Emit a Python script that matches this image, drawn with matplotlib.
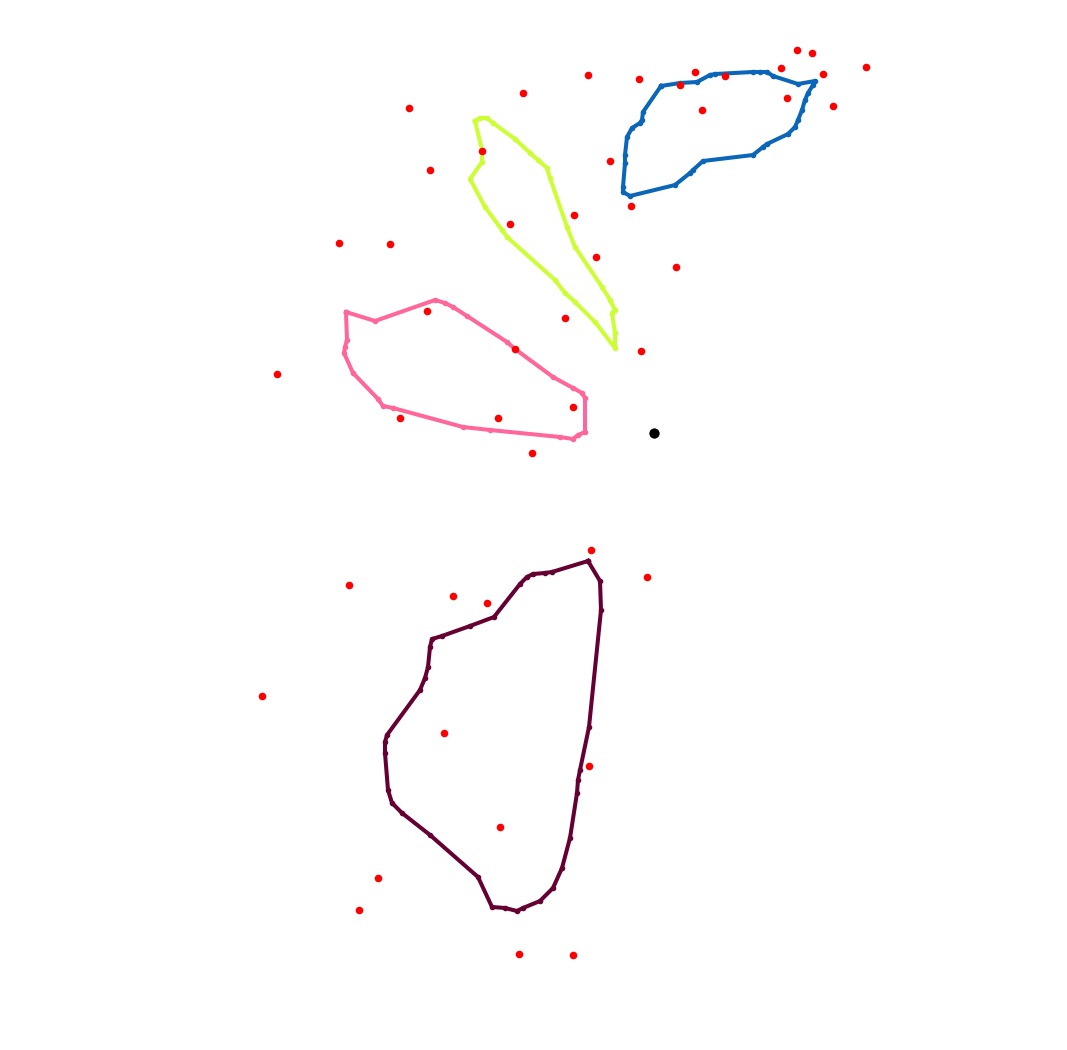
import matplotlib
matplotlib.use('Agg')
import matplotlib.pyplot as plt

# polygon outlines (vertex x, y in picture units)
blue_x = [661, 680, 697, 710, 715, 753, 760, 767, 773, 798, 815, 813, 808, 805, 802, 798, 795, 788,
          767, 763, 753, 703, 693, 690, 675, 630, 623, 623, 625, 625, 627, 632, 640, 642, 643]
blue_y = [86, 83, 82, 75, 74, 72, 72, 72, 76, 84, 81, 85, 93, 100, 110, 120, 127, 134,
          144, 147, 155, 161, 170, 173, 185, 196, 192, 187, 163, 155, 137, 128, 123, 120, 112]

lime_x = [475, 480, 487, 493, 515, 530, 538, 547, 550, 567, 575, 602, 610, 615, 612, 615, 615,
          595, 575, 565, 555, 507, 502, 485, 470, 482, 482]
lime_y = [121, 118, 118, 123, 139, 153, 160, 168, 178, 227, 247, 287, 300, 310, 313, 333, 348,
          322, 302, 293, 280, 237, 230, 207, 179, 162, 150]

pink_x = [346, 375, 435, 445, 453, 467, 507, 515, 553, 573, 582, 585, 585, 578, 573, 560,
          490, 463, 393, 383, 378, 353, 344, 345, 347]
pink_y = [312, 321, 300, 303, 307, 316, 342, 349, 377, 388, 393, 398, 432, 435, 439, 437,
          430, 427, 408, 406, 399, 373, 353, 347, 340]

maroon_x = [588, 600, 601, 589, 580, 578, 577, 570, 562, 553, 540, 523, 517, 505, 492, 478,
            430, 402, 392, 388, 385, 385, 387, 420, 425, 428, 430, 432, 442, 470, 494, 520,
            527, 533, 545, 552]
maroon_y = [561, 581, 610, 727, 770, 780, 793, 838, 868, 888, 901, 908, 911, 908, 907, 877,
            835, 813, 803, 790, 753, 742, 735, 690, 678, 667, 647, 639, 636, 626, 617, 584,
            577, 574, 573, 572]

# scattered points
red_x = [797, 812, 866, 781, 823, 695, 725, 680, 639, 588, 523, 409, 787, 702, 833, 482, 610,
         430, 631, 574, 510, 339, 390, 596, 676, 427, 565, 515, 641, 277, 573, 400, 498, 532,
         591, 647, 349, 453, 487, 262, 444, 589, 500, 378, 359, 519, 573]
red_y = [50, 53, 67, 68, 74, 72, 76, 85, 79, 75, 93, 108, 98, 110, 106, 151, 161,
         170, 206, 215, 224, 243, 244, 257, 267, 311, 318, 349, 351, 374, 407, 418, 418, 453,
         550, 577, 585, 596, 603, 696, 733, 766, 827, 878, 910, 954, 955]

center_x = [654]
center_y = [433]

fig = plt.figure(figsize=(10.67, 10.5), dpi=100)
ax = fig.add_axes([0, 0, 1, 1])

for xs, ys, col in [(blue_x, blue_y, '#0a66b8'),
                    (lime_x, lime_y, '#ccff33'),
                    (pink_x, pink_y, '#ff6699'),
                    (maroon_x, maroon_y, '#660033')]:
    ax.plot(xs + xs[:1], ys + ys[:1], color=col, lw=2.9, marker='o', markersize=3,
            solid_joinstyle='round', zorder=2)

ax.scatter(red_x, red_y, s=30, color='red', zorder=3, linewidths=0)
ax.scatter(center_x, center_y, s=55, color='black', zorder=3, linewidths=0)

ax.set_xlim(0, 1067)
ax.set_ylim(1050, 0)
ax.axis('off')

fig.savefig('out.png', dpi=100)
